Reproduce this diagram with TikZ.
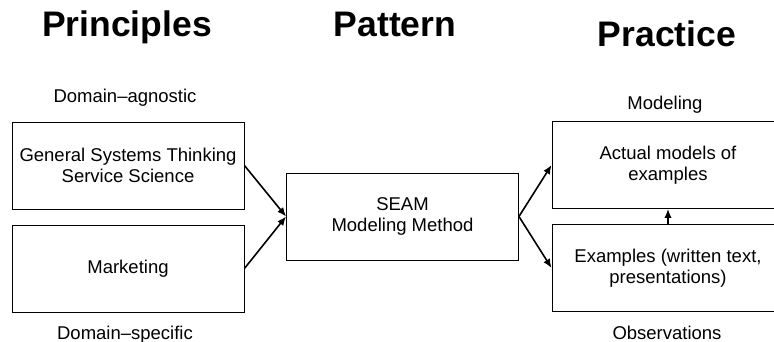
\documentclass[tikz,border=0pt]{standalone}
\usepackage{fontspec}
\setmainfont{Liberation Sans}
\usetikzlibrary{positioning,arrows.meta}
\begin{document}
\begin{tikzpicture}[x=1pt, y=-1pt, node distance=103pt, >={Latex[length=9pt,width=7.5pt]}]
      % Styles
      \tikzstyle{box} = [rectangle, draw=black, line width=0.9pt, align=center,
                          minimum width=232pt, minimum height=87pt, inner sep=2pt,
                          font=\fontsize{18.5}{21}\selectfont]
      \tikzstyle{heading} = [anchor=base, inner sep=0pt, font=\fontsize{35.5}{40}\selectfont\bfseries]
      \tikzstyle{caption} = [anchor=base, inner sep=0pt, font=\fontsize{18.5}{21}\selectfont]
      \tikzstyle{link} = [->, line width=1.6pt]
      \useasboundingbox (0,0) rectangle (774,342);
      \clip (0,0) rectangle (774,342);
      % Headings
      \node[heading] (principles) at (127,37) {Principles};
      \node[heading] (pattern) at (395,37) {Pattern};
      \node[heading] (practice) at (667,47) {Practice};
      % Nodes
      \node[box] (gst) at (128,165.5) {General Systems Thinking\\Service Science};
      \node[box, below of= gst] (marketing) {Marketing};
      \node[box] (seam) at (402.5,216.5) {SEAM\\Modeling Method};
      \node[box] (models) at (668,165) {Actual models of\\examples};
      \node[box, below of= models] (examples) {Examples (written text,\\presentations)};
      % Captions
      \node[caption] (agnostic) at (125,103) {Domain–agnostic};
      \node[caption] (specific) at (125,339) {Domain–specific};
      \node[caption] (modeling) at (665,110) {Modeling};
      \node[caption] (observations) at (667,339) {Observations};
      % Arrows
      \draw[link] (gst.east) -- (seam.west);
      \draw[link] (marketing.east) -- (seam.west);
      \draw[link] (seam.east) -- (models.west);
      \draw[link] (seam.east) -- (examples.west);
      \draw[link] (examples.north) -- (models.south);
  \end{tikzpicture}
\end{document}
